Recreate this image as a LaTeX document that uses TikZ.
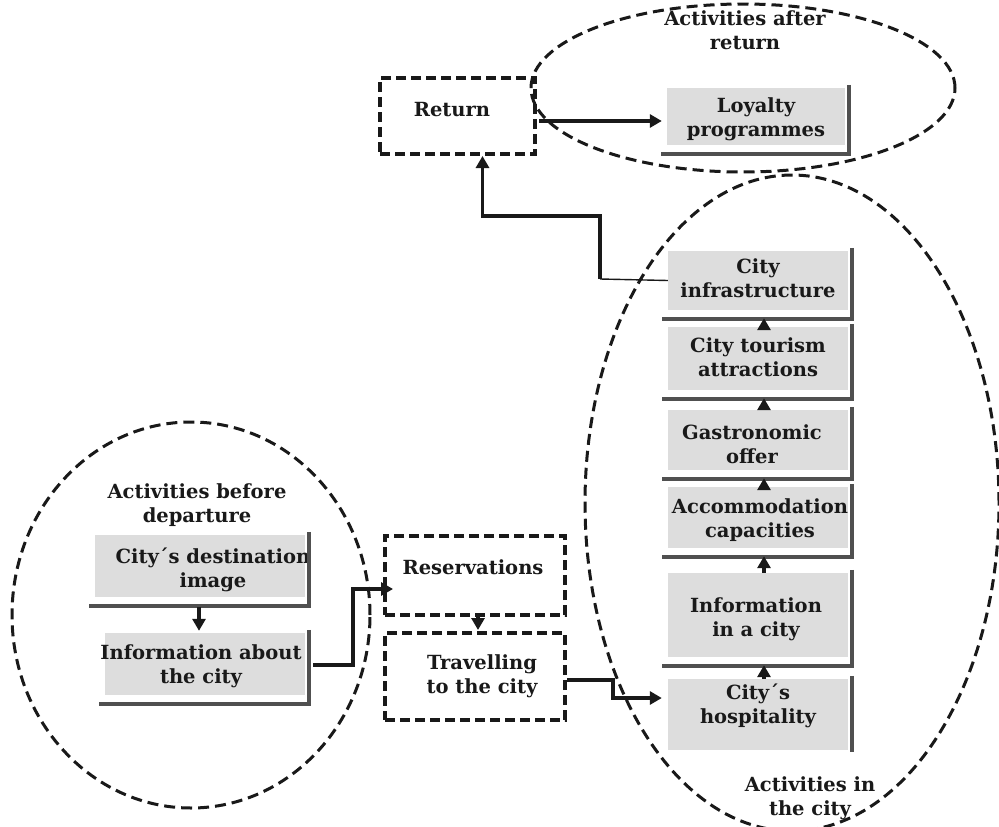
\documentclass[tikz,border=0pt]{standalone}
\usepackage{fontspec}
\setmainfont{DejaVu Serif}
\usetikzlibrary{arrows.meta,calc,shapes.geometric}
\definecolor{boxgray}{RGB}{221,221,221}
\definecolor{shadowgray}{RGB}{80,80,80}
\definecolor{inkc}{RGB}{25,25,25}
\begin{document}
\begin{tikzpicture}[x=1pt,y=-1pt,
  lbl/.style={font=\bfseries\fontsize{19.5}{24}\selectfont, align=center, text=inkc, inner sep=0},
  gbox/.style={fill=boxgray, draw=none, inner sep=0},
  shad/.style={draw=shadowgray, line width=3.6pt},
  dbox/.style={draw=inkc, line width=4pt, dash pattern=on 10pt off 5pt, inner sep=0},
  dell/.style={ellipse, draw=inkc, line width=3pt, dash pattern=on 11pt off 6pt, inner sep=0},
  arr/.style={draw=inkc, line width=3.4pt, -{Triangle[length=12pt,width=13pt]}},
]
\useasboundingbox (0,0) rectangle (999,827);
\fill[white] (0,0) rectangle (999,827);

% ellipses
\node[dell, minimum width=424pt, minimum height=168pt] (eAfter) at (743,88) {};
\node[dell, minimum width=414pt, minimum height=656pt] (eIn) at (792,503) {};
\node[dell, minimum width=358pt, minimum height=386pt] (eBefore) at (191,615) {};

% group labels
\node[lbl] (tAfter) at (745,30) {Activities after\\return};
\node[lbl] (tBefore) at (197,505) {Activities before\\departure};
\node[lbl] (tIn) at (810,798) {Activities in\\the city};

% dashed boxes
\node[dbox, minimum width=155pt, minimum height=76pt] (ret) at (457.5,116) {};
\node[lbl] (retT) at (452,110) {Return};
\node[dbox, minimum width=180pt, minimum height=79pt] (res) at (475,575.5) {};
\node[lbl] (resT) at (473,567) {Reservations};
\node[dbox, minimum width=180pt, minimum height=87pt] (trav) at (475,676.5) {};
\node[lbl] (travT) at (482,676) {Travelling\\to the city};

% gray boxes
\node[gbox, minimum width=178pt, minimum height=57pt] (loy) at (756,116.5) {};
\node[lbl] (loyT) at (756,119) {Loyalty\\programmes};

\node[gbox, minimum width=210pt, minimum height=62pt] (dest) at (200,566) {};
\node[lbl] (destT) at (213,570) {City´s destination\\image};
\node[gbox, minimum width=200pt, minimum height=62pt] (infab) at (205,664) {};
\node[lbl] (infabT) at (201,666) {Information about\\the city};

\node[gbox, minimum width=180pt, minimum height=59pt] (infra) at (758,280.5) {};
\node[lbl] (infraT) at (758,278) {City\\infrastructure};
\node[gbox, minimum width=180pt, minimum height=63pt] (tour) at (758,358.5) {};
\node[lbl] (tourT) at (758,357) {City tourism\\attractions};
\node[gbox, minimum width=180pt, minimum height=60pt] (gastro) at (758,440) {};
\node[lbl] (gastroT) at (752,444) {Gastronomic\\offer};
\node[gbox, minimum width=180pt, minimum height=61pt] (accom) at (758,517.5) {};
\node[lbl] (accomT) at (760,520) {Accommodation\\capacities};
\node[gbox, minimum width=180pt, minimum height=84pt] (infocity) at (758,615) {};
\node[lbl] (infocityT) at (756,619) {Information\\in a city};
\node[gbox, minimum width=180pt, minimum height=71pt] (hosp) at (758,714.5) {};
\node[lbl] (hospT) at (758,706) {City´s\\hospitality};

% shadows
\foreach \b in {infra,tour,gastro,accom,infocity,loy,dest,infab}{
  \draw[shad] ($(\b.north east)+(4,-3)$) -- ($(\b.south east)+(4,9)$) -- ($(\b.south west)+(-6,9)$);
}
\draw[shad] ($(hosp.north east)+(4,-3)$) -- ($(hosp.south east)+(4,2)$);

% right column arrows
\foreach \lo/\up in {hosp/infocity,infocity/accom,accom/gastro,gastro/tour,tour/infra}{
  \draw[arr] ($(\lo.north)+(6,0)$) -- ($(\up.south)+(6,8)$);
}

% other arrows
\draw[arr] ($(dest.south)+(-1,10)$) -- ($(infab.north)+(-6,-2)$);
\draw[arr] ($(ret.east)+(2,5)$) -- ($(loy.west)+(-5,4.5)$);
\coordinate (bend) at (600,279);
\draw[draw=inkc, line width=1.4pt] (infra.west) -- (bend);
\draw[arr] (bend) |- ($(ret.south)+(25,60)$) -- ($(ret.south)+(25,0)$);
\draw[arr] ($(infab.east)+(8,1)$) -| ($(res.west)+(-30,13.5)$) -- ($(res.west)+(10,13.5)$);
\draw[arr] ($(res.south)+(3,0)$) -- ($(trav.north)+(3,-1)$);
\draw[arr] ($(trav.east)+(0,3.5)$) -| ($(hosp.west)+(-55,-16.5)$) -- ($(hosp.west)+(-6,-16.5)$);
\end{tikzpicture}
\end{document}
